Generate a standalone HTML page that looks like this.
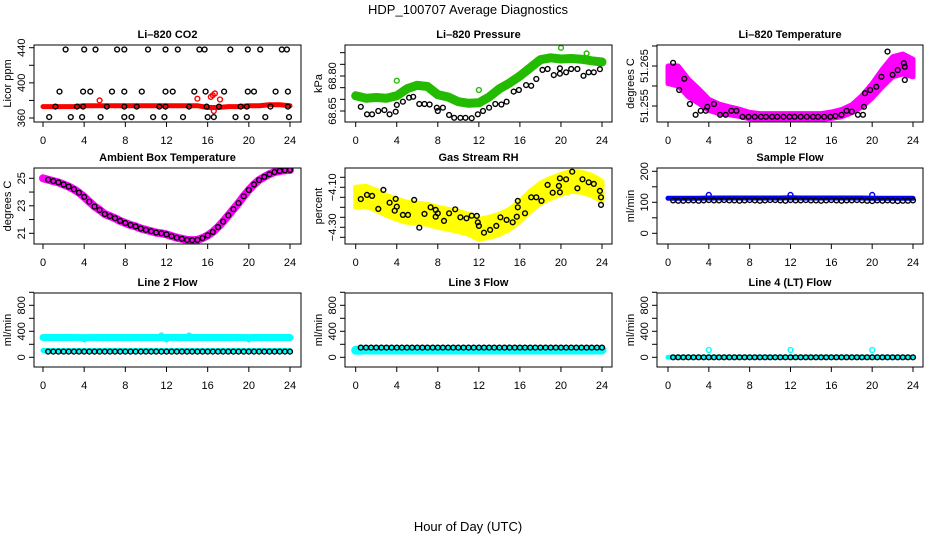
<!DOCTYPE html>
<html><head><meta charset="utf-8"><title>HDP_100707 Average Diagnostics</title>
<style>
html,body{margin:0;padding:0;background:#fff;}
svg{display:block;font-family:"Liberation Sans",Arial,sans-serif;}
</style></head>
<body>
<svg id="chart" width="936" height="540" viewBox="0 0 936 540" xmlns="http://www.w3.org/2000/svg">
<rect x="0" y="0" width="936" height="540" fill="#fff"/>
<text x="468" y="14" text-anchor="middle" font-size="13">HDP_100707  Average Diagnostics</text>
<text x="468" y="531" text-anchor="middle" font-size="13">Hour of Day (UTC)</text>
</svg>
<script>
// ---------- data ----------
const H25 = [0,1,2,3,4,5,6,7,8,9,10,11,12,13,14,15,16,17,18,19,20,21,22,23,24];
const T48 = [0.5,1,1.5,2,2.5,3,3.5,4,4.5,5,5.5,6,6.5,7,7.5,8,8.5,9,9.5,10,10.5,11,11.5,12,12.5,13,13.5,14,14.5,15,15.5,16,16.5,17,17.5,18,18.5,19,19.5,20,20.5,21,21.5,22,22.5,23,23.5,24];
const T49 = [0,0.5,1,1.5,2,2.5,3,3.5,4,4.5,5,5.5,6,6.5,7,7.5,8,8.5,9,9.5,10,10.5,11,11.5,12,12.5,13,13.5,14,14.5,15,15.5,16,16.5,17,17.5,18,18.5,19,19.5,20,20.5,21,21.5,22,22.5,23,23.5,24];
const xTicks = [0,4,8,12,16,20,24];

// CO2
const co2Red = [373,373,373,373,374,374,374,374,374,374,374,374,374,374,374,374,372,372,373,373,374,374,375,375,374];
const co2RedOutT = [5.5,15.0,16.3,16.5,16.7,17.2,16.6];
const co2RedOutV = [380,382,384,386,388,381,368];
const co2BlackT = [2.2,4.0,5.1,7.2,7.9,10.2,11.9,13.1,15.2,15.7,18.2,19.9,21.1,23.2,23.7,
 1.6,3.9,4.6,6.7,7.9,9.6,11.9,12.6,14.7,15.8,17.6,19.9,20.5,22.6,23.8,
 1.2,3.3,3.9,6.2,7.9,9.1,11.3,11.9,14.2,15.9,17.1,19.2,19.8,22.1,23.8,
 0.6,2.7,3.8,5.6,7.9,8.6,10.7,11.8,13.6,16.0,16.6,18.7,19.8,21.6,23.9];
const co2BlackV = [438,438,438,438,438,438,438,438,438,438,438,438,438,438,438,
 390,390,390,390,390,390,390,390,390,390,390,390,390,390,390,
 373,373,373,373,373,373,373,373,373,373,373,373,373,373,373,
 361,361,361,361,361,361,361,361,361,361,361,361,361,361,361];

// Pressure
const presGreen = [68.715,68.705,68.708,68.705,68.715,68.745,68.76,68.755,68.72,68.71,68.69,68.683,68.685,68.71,68.745,68.77,68.8,68.835,68.87,68.878,68.873,68.875,68.872,68.865,68.86];
const presGreenOutT = [4.0,12.0,20.0,22.5];
const presGreenOutV = [68.78,68.74,68.921,68.897];
const presBlackT = [0.5,1.1,1.6,2.2,2.8,3.3,3.9,4.0,4.6,5.2,5.6,6.2,6.7,7.2,7.9,8.0,8.5,9.1,9.6,10.2,10.7,11.3,11.9,12.4,13.0,13.6,14.2,14.7,15.4,15.9,16.6,17.1,17.6,18.2,18.7,19.3,19.9,19.9,20.5,21.0,21.6,22.2,22.7,23.2,23.8];
const presBlackV = [68.668,68.636,68.636,68.65,68.654,68.636,68.647,68.676,68.69,68.707,68.711,68.68,68.68,68.678,68.664,68.65,68.664,68.633,68.621,68.621,68.621,68.619,68.636,68.65,68.664,68.68,68.678,68.69,68.733,68.74,68.761,68.758,68.787,68.826,68.83,68.804,68.833,68.81,68.816,68.83,68.83,68.801,68.816,68.816,68.829];

// Li-820 temperature
const tempMag = [51.2628,51.2625,51.2595,51.2575,51.2553,51.2543,51.2538,51.2533,51.2526,51.2524,51.2524,51.2524,51.2524,51.2524,51.2524,51.2524,51.2527,51.2532,51.2543,51.2562,51.2588,51.262,51.2648,51.2655,51.2645];
const tempSpread = [0.0022,0.0025,0.0022,0.0018,0.0014,0.0012,0.001,0.0009,0.0008,0.0007,0.0007,0.0007,0.0007,0.0007,0.0007,0.0007,0.0008,0.0009,0.001,0.0014,0.0018,0.0022,0.0025,0.0025,0.0022];
const tempBlackT = [0.5,1.1,1.6,2.15,2.7,3.2,3.7,3.85,4.5,5.1,5.65,6.2,6.7,7.3,7.9,8.5,9.1,9.6,10.2,10.7,11.3,11.9,12.4,13.0,13.6,14.2,14.7,15.3,15.9,16.4,17.0,17.5,18.0,18.6,19.1,19.2,19.3,19.8,20.4,20.9,21.5,22.0,22.5,23.1,23.2,23.2];
const tempBlackV = [51.2658,51.259,51.2618,51.2555,51.2528,51.2538,51.2538,51.2548,51.2555,51.2528,51.2528,51.2538,51.2538,51.2523,51.2523,51.2523,51.2523,51.2523,51.2523,51.2523,51.2523,51.2523,51.2523,51.2523,51.2523,51.2523,51.2523,51.2523,51.2523,51.2525,51.2528,51.2538,51.2536,51.2528,51.2528,51.2548,51.2582,51.259,51.2598,51.2623,51.2686,51.2628,51.264,51.2657,51.2648,51.2615];

// Ambient box temperature
const ambient = [25.0,24.9,24.8,24.7,24.55,24.4,24.2,23.95,23.65,23.3,22.95,22.7,22.4,22.25,22.1,21.9,21.75,21.6,21.5,21.35,21.25,21.15,21.05,21.0,20.92,20.8,20.68,20.6,20.52,20.5,20.52,20.65,20.85,21.1,21.45,21.85,22.3,22.75,23.2,23.7,24.15,24.55,24.88,25.1,25.3,25.45,25.53,25.58,25.6];

// Gas stream RH
const rhYellow = [-4.15,-4.145,-4.165,-4.19,-4.21,-4.225,-4.23,-4.235,-4.25,-4.26,-4.27,-4.285,-4.31,-4.3,-4.285,-4.26,-4.22,-4.17,-4.13,-4.105,-4.085,-4.07,-4.075,-4.09,-4.12];
const rhSpread = [0.05,0.05,0.05,0.05,0.05,0.05,0.05,0.05,0.05,0.05,0.05,0.05,0.05,0.05,0.05,0.05,0.05,0.05,0.05,0.05,0.05,0.05,0.05,0.05,0.05];
const rhBlackT = [0.5,1.1,1.6,2.2,2.7,3.3,3.8,3.9,4.0,4.6,5.1,5.7,6.2,6.7,7.3,7.8,7.8,8.0,8.6,9.1,9.7,10.2,10.8,11.3,11.8,11.9,12.0,12.5,13.1,13.7,14.1,14.7,15.3,15.7,15.8,15.8,16.5,17.1,17.6,18.1,18.7,19.2,19.8,19.9,19.9,20.5,21.1,21.6,22.1,22.7,23.2,23.8,23.9,23.9];
const rhBlackV = [-4.159,-4.138,-4.143,-4.208,-4.113,-4.177,-4.217,-4.158,-4.197,-4.238,-4.238,-4.163,-4.302,-4.233,-4.2,-4.213,-4.247,-4.23,-4.268,-4.23,-4.21,-4.25,-4.255,-4.242,-4.243,-4.275,-4.293,-4.327,-4.313,-4.293,-4.25,-4.263,-4.275,-4.247,-4.2,-4.168,-4.23,-4.15,-4.15,-4.168,-4.088,-4.127,-4.093,-4.055,-4.125,-4.06,-4.022,-4.105,-4.06,-4.075,-4.083,-4.118,-4.15,-4.188];

// Sample flow
const sampleBlue = [113,113,113,113,114,114,114,114,114,114,114,114,115,114,114,114,114,114,114,114,113,113,113,113,113];
const sampleBlueOutT = [4,12,20];
const sampleBlueOutV = [124,124,124];
const sampleBlack = [106,105,105,106,106,105,106,107,106,106,107,106,106,105,106,107,106,105,106,107,107,106,105,107,106,106,107,106,106,105,106,107,106,105,106,106,107,106,105,104,106,105,106,105,104,105,105,106];

// Line 2 flow
const line2CyanHi = [305,305,305,305,303,305,305,305,305,305,305,305,305,305,305,305,305,305,305,305,303,305,305,305,305];
const line2CyanOutT = [4,12,20,11.5,14.2];
const line2CyanOutV = [275,275,275,335,335];
const line2CyanLo = [105,105,105,105,105,105,105,105,105,105,105,105,105,105,105,105,105,105,105,105,105,105,105,105,105];
const line2Black = [88,88,88,88,88,88,88,88,88,88,88,88,88,88,88,88,88,88,88,88,88,88,88,88,88,88,88,88,88,88,88,88,88,88,88,88,88,88,88,88,88,88,88,88,88,88,88,88];

// Line 3 flow
const line3Cyan = [110,112,112,112,112,112,112,112,112,112,112,112,112,112,112,112,112,112,112,112,112,112,112,112,112];
const line3Black = [150,150,150,150,150,150,150,150,150,150,150,150,150,150,150,150,150,150,150,150,150,150,150,150,150,150,150,150,150,150,150,150,150,150,150,150,150,150,150,150,150,150,150,150,150,150,150,150];

// Line 4 flow
const line4Cyan = [0,0,0,0,0,0,0,0,0,0,0,0,0,0,0,0,0,0,0,0,0,0,0,0,0];
const line4CyanOutT = [4,12,20];
const line4CyanOutV = [112,112,112];
const line4Black = [0,0,0,0,0,0,0,0,0,0,0,0,0,0,0,0,0,0,0,0,0,0,0,0,0,0,0,0,0,0,0,0,0,0,0,0,0,0,0,0,0,0,0,0,0,0,0,0];

// ---------- drawing ----------
const NS = 'http://www.w3.org/2000/svg';
const svg = document.getElementById('chart');
function mk(tag, attrs, parent) {
  const e = document.createElementNS(NS, tag);
  for (const k in attrs) e.setAttribute(k, attrs[k]);
  (parent || svg).appendChild(e);
  return e;
}
const cols = [{l:34,r:301,x0:43,x24:290},{l:345,r:612,x0:355.7,x24:602},{l:657,r:923,x0:668,x24:913}];
const rows = [{t:45,b:122},{t:168,b:244},{t:293,b:367}];

function panel(ci, ri, cfg) {
  const c = cols[ci], r = rows[ri];
  const g = mk('g', {});
  
  
  const xs = h => c.x0 + (c.x24 - c.x0) * h / 24;
  const ys = v => cfg.yPix0 + (v - cfg.yVal0) * (cfg.yPix1 - cfg.yPix0) / (cfg.yVal1 - cfg.yVal0);
  // title
  const tt = mk('text', {x:(c.l + c.r) / 2, y:r.t - 7, 'text-anchor':'middle', 'font-size':'11', 'font-weight':'bold'}, g);
  tt.textContent = cfg.title;
  
  
  // clip
  const cid = 'clip-' + cfg.name;
  const cp = mk('clipPath', {id:cid}, g);
  mk('rect', {x:c.l, y:r.t, width:c.r - c.l, height:r.b - r.t}, cp);
  const plot = mk('g', {'clip-path':'url(#' + cid + ')'}, g);
  
  
  // series
  cfg.series.forEach(s => {
    if (s.type === 'band') {
      const pts = s.t.map((h, i) => xs(h).toFixed(1) + ',' + ys(s.v[i]).toFixed(1)).join(' ');
      if (s.spread) {
        const up = s.t.map((h, i) => xs(h).toFixed(1) + ',' + ys(s.v[i] + s.spread[i]).toFixed(1));
        const lo = s.t.map((h, i) => xs(h).toFixed(1) + ',' + ys(s.v[i] - s.spread[i]).toFixed(1)).reverse();
        const pg = mk('polygon', {points:up.concat(lo).join(' '), fill:s.color, stroke:s.color, 'stroke-width':5, 'stroke-linejoin':'round'}, plot);
        
        
      } else {
        const pl = mk('polyline', {points:pts, fill:'none', stroke:s.color, 'stroke-width':s.w, 'stroke-linejoin':'round', 'stroke-linecap':'round'}, plot);
        
        
      }
    } else {
      s.t.forEach((h, i) => {
        const ci2 = mk('circle', {cx:xs(h).toFixed(1), cy:ys(s.v[i]).toFixed(1), r:2.4, fill:'none', stroke:s.color, 'stroke-width':1.4}, plot);
        
        
      });
    }
  });
  // box
  const bx = mk('rect', {x:c.l, y:r.t, width:c.r - c.l, height:r.b - r.t, fill:'none', stroke:'#000', 'stroke-width':1}, g);
  
  
  // x axis
  const xa = mk('g', {}, g);
  
  
  xTicks.forEach(h => {
    mk('line', {x1:xs(h), x2:xs(h), y1:r.b, y2:r.b + 5, stroke:'#000'}, xa);
    const tx = mk('text', {x:xs(h), y:r.b + 22, 'text-anchor':'middle', 'font-size':'11'}, xa);
    tx.textContent = h;
    
    
  });
  // y axis
  const ya = mk('g', {}, g);
  
  
  cfg.yTicks.forEach(v => {
    mk('line', {x1:c.l - 5, x2:c.l, y1:ys(v), y2:ys(v), stroke:'#000'}, ya);
  });
  cfg.yLabels.forEach((v, i) => {
    const yy = ys(v), xx = c.l - 9;
    const tx = mk('text', {x:xx, y:yy, 'text-anchor':'middle', 'font-size':'11', transform:'rotate(-90 ' + xx + ' ' + yy + ')'}, ya);
    tx.textContent = cfg.yLabelText[i];
    
    
  });
  const yt = (r.t + r.b) / 2, xt = c.l - 23;
  const ytt = mk('text', {x:xt, y:yt, 'text-anchor':'middle', 'font-size':'11', transform:'rotate(-90 ' + xt + ' ' + yt + ')'}, g);
  ytt.textContent = cfg.ylab;
  
  
}

panel(0, 0, {name:'co2', title:'Li\u2013820 CO2', ylab:'Licor ppm', yVal0:360, yPix0:118, yVal1:440, yPix1:47.7,
  yTicks:[360,380,400,420,440], yLabels:[360,400,440], yLabelText:['360','400','440'],
  series:[{type:'band', name:'co2-red-band', t:H25, v:co2Red, color:'#ff0000', w:5},
          {type:'pts', name:'co2-red', t:co2RedOutT, v:co2RedOutV, color:'#ff0000'},
          {type:'pts', name:'co2-black', t:co2BlackT, v:co2BlackV, color:'#000'}]});
panel(1, 0, {name:'pressure', title:'Li\u2013820 Pressure', ylab:'kPa', yVal0:68.65, yPix0:111, yVal1:68.80, yPix1:76,
  yTicks:[68.65,68.70,68.75,68.80,68.85,68.90], yLabels:[68.65,68.80], yLabelText:['68.65','68.80'],
  series:[{type:'band', name:'pressure-green-band', t:H25, v:presGreen, color:'#22bb00', w:9},
          {type:'pts', name:'pressure-green', t:presGreenOutT, v:presGreenOutV, color:'#22bb00'},
          {type:'pts', name:'pressure-black', t:presBlackT, v:presBlackV, color:'#000'}]});
panel(2, 0, {name:'li820-temperature', title:'Li\u2013820 Temperature', ylab:'degrees C', yVal0:51.255, yPix0:106, yVal1:51.265, yPix1:66,
  yTicks:[51.255,51.260,51.265,51.270], yLabels:[51.255,51.265], yLabelText:['51.255','51.265'],
  series:[{type:'band', name:'temperature-magenta-band', t:H25, v:tempMag, spread:tempSpread, color:'#ff00ff'},
          {type:'pts', name:'temperature-black', t:tempBlackT, v:tempBlackV, color:'#000'}]});
panel(0, 1, {name:'ambient', title:'Ambient Box Temperature', ylab:'degrees C', yVal0:25, yPix0:178.3, yVal1:21, yPix1:233.3,
  yTicks:[21,22,23,24,25], yLabels:[21,23,25], yLabelText:['21','23','25'],
  series:[{type:'band', name:'ambient-magenta-band', t:T49, v:ambient, color:'#ff00ff', w:8},
          {type:'pts', name:'ambient-black', t:T48, v:ambient.slice(1), color:'#000'}]});
panel(1, 1, {name:'gas-rh', title:'Gas Stream RH', ylab:'percent', yVal0:-4.10, yPix0:187.3, yVal1:-4.30, yPix1:227.3,
  yTicks:[-4.05,-4.10,-4.15,-4.20,-4.25,-4.30,-4.35], yLabels:[-4.10,-4.30], yLabelText:['\u22124.10','\u22124.30'],
  series:[{type:'band', name:'rh-yellow-band', t:H25, v:rhYellow, spread:rhSpread, color:'#ffff00'},
          {type:'pts', name:'rh-black', t:rhBlackT, v:rhBlackV, color:'#000'}]});
panel(2, 1, {name:'sample-flow', title:'Sample Flow', ylab:'ml/min', yVal0:0, yPix0:233.3, yVal1:100, yPix1:202.3,
  yTicks:[0,50,100,150,200], yLabels:[0,100,200], yLabelText:['0','100','200'],
  series:[{type:'band', name:'sample-blue-band', t:H25, v:sampleBlue, color:'#0000ff', w:5},
          {type:'pts', name:'sample-blue', t:sampleBlueOutT, v:sampleBlueOutV, color:'#0000ff'},
          {type:'pts', name:'sample-black', t:T48, v:sampleBlack, color:'#000'}]});
const flowAxis = {ylab:'ml/min', yVal0:0, yPix0:357.3, yVal1:400, yPix1:331.3, yTicks:[0,200,400,600,800,1000], yLabels:[0,400,800], yLabelText:['0','400','800']};
panel(0, 2, Object.assign({name:'line2-flow', title:'Line 2 Flow',
  series:[{type:'band', name:'line2-cyan-high-band', t:H25, v:line2CyanHi, color:'#00ffff', w:7},
          {type:'pts', name:'line2-cyan', t:line2CyanOutT, v:line2CyanOutV, color:'#00ffff'},
          {type:'band', name:'line2-cyan-low-band', t:H25, v:line2CyanLo, color:'#00ffff', w:5},
          {type:'pts', name:'line2-black', t:T48, v:line2Black, color:'#000'}]}, flowAxis));
panel(1, 2, Object.assign({name:'line3-flow', title:'Line 3 Flow',
  series:[{type:'band', name:'line3-cyan-band', t:H25, v:line3Cyan, color:'#00ffff', w:9},
          {type:'pts', name:'line3-black', t:T48, v:line3Black, color:'#000'}]}, flowAxis));
panel(2, 2, Object.assign({name:'line4-flow', title:'Line 4 (LT) Flow',
  series:[{type:'band', name:'line4-cyan-band', t:H25, v:line4Cyan, color:'#00ffff', w:5},
          {type:'pts', name:'line4-cyan', t:line4CyanOutT, v:line4CyanOutV, color:'#00ffff'},
          {type:'pts', name:'line4-black', t:T48, v:line4Black, color:'#000'}]}, flowAxis));
</script>
</body></html>
